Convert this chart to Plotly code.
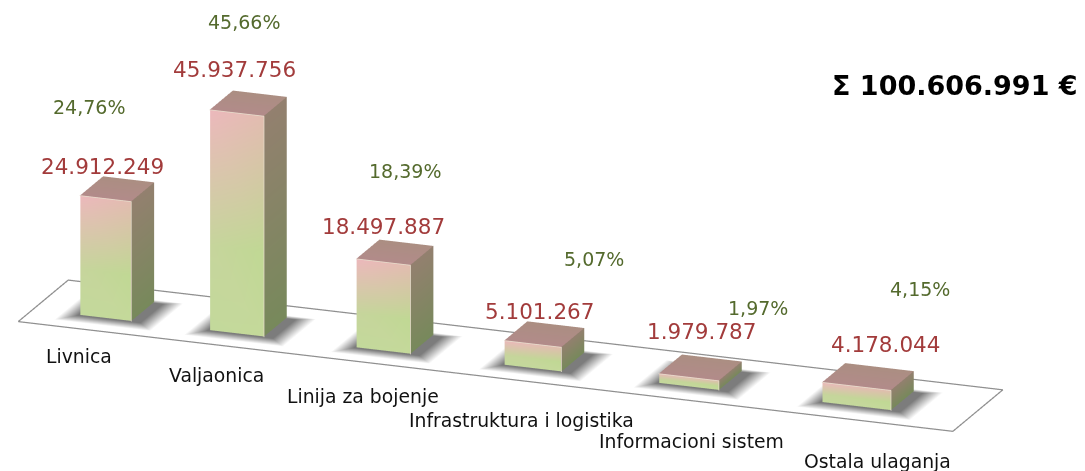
import math
import plotly.graph_objects as go

categories = ["Livnica", "Valjaonica", "Linija za bojenje", "Infrastruktura i logistika", "Informacioni sistem", "Ostala ulaganja"]
values = [24912249, 45937756, 18497887, 5101267, 1979787, 4178044]
value_labels = ["24.912.249", "45.937.756", "18.497.887", "5.101.267", "1.979.787", "4.178.044"]
percent_labels = ["24,76%", "45,66%", "18,39%", "5,07%", "1,97%", "4,15%"]
total_label = "Σ 100.606.991 €"

# placement (not data)
bar_x = [-0.13, 0.77, 1.775, 2.80, 3.87, 5.02]
bar_w = [0.35, 0.37, 0.37, 0.39, 0.41, 0.47]
bar_d = 0.5
floor_x = (-0.63, 5.78)
floor_y = (-1.15, 1.05)
value_xy = [(102, 167), (234, 70), (383, 226), (539, 311), (701, 331), (885, 344)]
percent_xy = [(89, 107), (244, 22), (405, 171), (594, 259), (758, 308), (920, 289)]
category_xy = [(79, 356), (216, 375), (363, 396), (521, 420), (692, 441), (877, 461)]

FRONT = dict(tl="#ecb8bc", tr="#e2bcb0", ml="#c6d59c", mr="#c0d894", bl="#c3d99b", br="#c4d99a")
SIDE = dict(t="#93806f", b="#77895b")
TOP = dict(f="#b28b8a", b="#ab8e82")
SHADOW = "#7c7c7c"

fig = go.Figure()

def add_mesh(X, Y, Z, VC, I, J, K):
    fig.add_trace(go.Mesh3d(x=X, y=Y, z=Z, i=I, j=J, k=K, vertexcolor=VC, flatshading=True,
                            lighting=dict(ambient=1, diffuse=0, specular=0, roughness=1, fresnel=0),
                            showscale=False, hoverinfo="skip"))

for xc, w, v in zip(bar_x, bar_w, values):
    x0, x1 = xc - w / 2, xc + w / 2
    inner = [(x0 - .02, -bar_d), (x1 + .06, -bar_d), (x1 + .06, bar_d), (x0 - .02, bar_d)]
    outer = [(x0 - .13, -bar_d - .32), (x1 + .18, -bar_d - .32), (x1 + .18, bar_d + .14), (x0 - .13, bar_d + .14)]
    X = [p[0] for p in inner + outer]
    Y = [p[1] for p in inner + outer]
    Z = [-2e5] * 8
    VC = [SHADOW] * 4 + ["#ffffff"] * 4
    I, J, K = [0, 0], [1, 2], [2, 3]
    for a in range(4):
        b = (a + 1) % 4
        I += [a, a]; J += [b, b + 4]; K += [b + 4, a + 4]
    add_mesh(X, Y, Z, VC, I, J, K)

fx = [floor_x[0], floor_x[1], floor_x[1], floor_x[0], floor_x[0]]
fy = [floor_y[0], floor_y[0], floor_y[1], floor_y[1], floor_y[0]]
fig.add_trace(go.Scatter3d(x=fx, y=fy, z=[0] * 5, mode="lines", line=dict(color="#8f8f8f", width=2.5), hoverinfo="skip"))

for xc, w, v in zip(bar_x, bar_w, values):
    x0, x1 = xc - w / 2, xc + w / 2
    y0, y1 = -bar_d, bar_d
    m = v * 0.38
    X = [x0, x1, x0, x1, x0, x1,  x1, x1, x1, x1,  x0, x1, x1, x0]
    Y = [y0, y0, y0, y0, y0, y0,  y0, y1, y0, y1,  y0, y0, y1, y1]
    Z = [v, v, m, m, 0, 0,  v, v, 0, 0,  v, v, v, v]
    VC = [FRONT["tl"], FRONT["tr"], FRONT["ml"], FRONT["mr"], FRONT["bl"], FRONT["br"],
          SIDE["t"], SIDE["t"], SIDE["b"], SIDE["b"],
          TOP["f"], TOP["f"], TOP["b"], TOP["b"]]
    I = [0, 0, 2, 2, 6, 6, 10, 10]
    J = [1, 3, 3, 5, 7, 9, 11, 12]
    K = [3, 2, 5, 4, 9, 8, 12, 13]
    add_mesh(X, Y, Z, VC, I, J, K)
    # pale bevel, lifted just in front of the faces
    fig.add_trace(go.Scatter3d(x=[x0, x1 + .004, x1 + .004], y=[y0 - .03] * 3, z=[v + 3e4, v + 3e4, 0], mode="lines",
                               line=dict(color="#e6dccb", width=1.5), hoverinfo="skip"))

hidden = dict(visible=False, showgrid=False, zeroline=False, showticklabels=False, showspikes=False)
x_range = [-1.0, 6.0]
y_range = [-1.5, 1.5]
z_range = [-1e6, 6e7]
phi = math.radians(18.2)
theta = math.radians(20.6)
dist = 6.0
px_per_unit = 248.0
eye = dict(x=dist * math.cos(phi) * math.sin(theta), y=-dist * math.cos(phi) * math.cos(theta), z=dist * math.sin(phi))

shift_left, shift_up = 44, 25
r = (math.cos(theta), math.sin(theta), 0)
u = (-math.sin(phi) * math.sin(theta), math.sin(phi) * math.cos(theta), math.cos(phi))
cvec = [(shift_left * r[i] - shift_up * u[i]) / px_per_unit for i in range(3)]
center = dict(x=cvec[0], y=cvec[1], z=cvec[2])
eye = dict(x=eye["x"] + center["x"], y=eye["y"] + center["y"], z=eye["z"] + center["z"])

annotations = []
for txt, (x, y) in zip(value_labels, value_xy):
    annotations.append((txt, x, y, 21.5, "#a23b3b", False))
for txt, (x, y) in zip(percent_labels, percent_xy):
    annotations.append((txt, x, y, 19, "#546a2d", False))
for txt, (x, y) in zip(categories, category_xy):
    annotations.append((txt, x, y, 18.8, "#111111", False))
annotations.append((total_label, 955, 86, 27, "#000000", True))

fig.update_layout(
    width=1085, height=471, margin=dict(l=0, r=0, t=0, b=0), showlegend=False, paper_bgcolor="white",
    scene=dict(
        xaxis=dict(hidden, range=x_range), yaxis=dict(hidden, range=y_range), zaxis=dict(hidden, range=z_range),
        aspectmode="manual", aspectratio=dict(x=4.63, y=0.822, z=1.31),
        domain=dict(x=[0, 1], y=[0, 1]),
        camera=dict(eye=eye, center=center, up=dict(x=0, y=0, z=1), projection=dict(type="orthographic")),
    ),
    annotations=[dict(text=f"<b>{t}</b>" if b else t, x=x / 1085, y=1 - y / 471, xref="paper", yref="paper", showarrow=False,
                      font=dict(family="DejaVu Sans", size=s, color=c), xanchor="center", yanchor="middle")
                 for t, x, y, s, c, b in annotations],
)
fig.write_html("out.html", post_script="document.body.style.margin='0';", config=dict(displayModeBar=False))
